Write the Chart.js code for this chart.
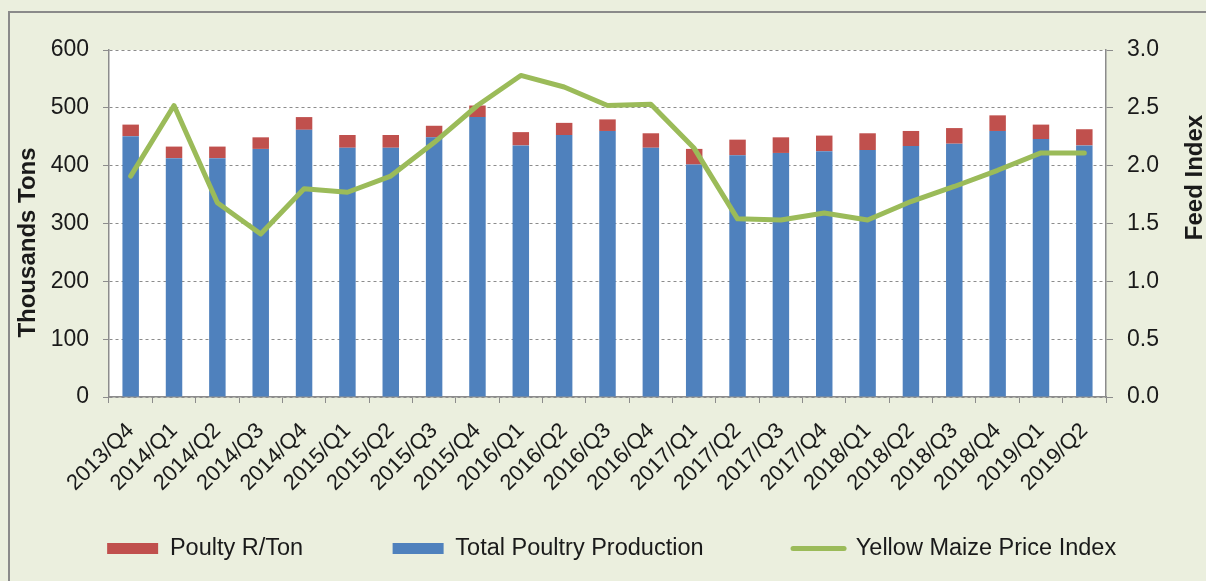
<!DOCTYPE html>
<html>
<head>
<meta charset="utf-8">
<script src="https://cdn.jsdelivr.net/npm/chart.js@4.4.1/dist/chart.umd.min.js"></script>
<style>
html,body{margin:0;padding:0;background:#ebefde;}
canvas{display:block;}
</style>
</head>
<body>
<canvas id="c" width="1206" height="581"></canvas>
<script>
// ---- data ----
const categories = ['2013/Q4','2014/Q1','2014/Q2','2014/Q3','2014/Q4','2015/Q1','2015/Q2','2015/Q3','2015/Q4',
  '2016/Q1','2016/Q2','2016/Q3','2016/Q4','2017/Q1','2017/Q2','2017/Q3','2017/Q4',
  '2018/Q1','2018/Q2','2018/Q3','2018/Q4','2019/Q1','2019/Q2'];
const totalPoultryProduction = [451,413,413,429,462,431,431,449,484,435,453,460,431,402,418,422,425,427,434,438,460,446,435];
const poultyRPerTon = [20,20,20,20,22,22,22,20,20,23,21,20,25,27,27,27,27,29,26,27,27,25,28];
const yellowMaizePriceIndex = [1.91,2.52,1.68,1.41,1.80,1.77,1.91,2.20,2.52,2.78,2.68,2.52,2.53,2.15,1.54,1.53,1.59,1.53,1.69,1.82,1.96,2.11,2.11];
const leftAxisTitle = 'Thousands Tons';
const rightAxisTitle = 'Feed Index';
const legendOrder = ['Poulty R/Ton','Total Poultry Production','Yellow Maize Price Index'];

const FONT = "'Liberation Sans', Arial, sans-serif";
const BG = '#ebefde';
const AXIS = '#8c8c8c';
const TXT = '#1a1a1a';

const bgPlugin = {
  id: 'bgPlugin',
  beforeDraw(chart) {
    const {ctx, chartArea: a} = chart;
    ctx.save();
    ctx.fillStyle = BG;
    ctx.fillRect(0, 0, chart.width, chart.height);
    ctx.strokeStyle = '#8a8a8a';
    ctx.lineWidth = 2;
    ctx.strokeRect(9, 12, chart.width + 40, chart.height + 40);
    ctx.fillStyle = '#ffffff';
    ctx.fillRect(a.left, a.top, a.right - a.left, a.bottom - a.top);
    ctx.restore();
  }
};

const titlePlugin = {
  id: 'titlePlugin',
  afterDraw(chart) {
    const {ctx, chartArea: a} = chart;
    const mid = (a.top + a.bottom) / 2;
    ctx.save();
    ctx.font = 'bold 24px ' + FONT;
    ctx.fillStyle = TXT;
    ctx.textAlign = 'center';
    ctx.textBaseline = 'middle';
    [[leftAxisTitle, 28, mid + 19], [rightAxisTitle, chart.width - 11, mid - 46]].forEach(([t, x, y]) => {
      ctx.save();
      ctx.translate(x, y);
      ctx.rotate(-Math.PI / 2);
      ctx.fillText(t, 0, 0);
      ctx.restore();
    });
    ctx.restore();
  }
};

new Chart(document.getElementById('c'), {
  data: {
    labels: categories,
    datasets: [
      {
        type: 'bar', label: 'Total Poultry Production', data: totalPoultryProduction,
        backgroundColor: '#4f81bd', yAxisID: 'y', stack: 's', order: 1,
        barPercentage: 0.38, categoryPercentage: 1
      },
      {
        type: 'bar', label: 'Poulty R/Ton', data: poultyRPerTon,
        backgroundColor: '#c0504d', yAxisID: 'y', stack: 's', order: 1,
        barPercentage: 0.38, categoryPercentage: 1
      },
      {
        type: 'line', label: 'Yellow Maize Price Index', data: yellowMaizePriceIndex,
        borderColor: '#9bbb59', backgroundColor: '#9bbb59', borderWidth: 5,
        borderCapStyle: 'round', borderJoinStyle: 'round',
        pointRadius: 0, pointHoverRadius: 0, tension: 0, yAxisID: 'y1', order: 0
      }
    ]
  },
  options: {
    responsive: false,
    animation: false,
    layout: { padding: { left: 3.3, right: -14, top: 50, bottom: 10.75 } },
    plugins: {
      tooltip: { enabled: false },
      legend: {
        position: 'bottom',
        labels: {
          usePointStyle: true,
          pointStyleWidth: 51,
          boxHeight: 11,
          padding: 89.5,
          color: TXT,
          font: { family: FONT, size: 23.5 },
          generateLabels(chart) {
            const items = Chart.defaults.plugins.legend.labels.generateLabels(chart);
            items.forEach(it => {
              const ds = chart.data.datasets[it.datasetIndex];
              if (ds.type === 'line') { it.pointStyle = 'line'; it.lineWidth = 5; it.lineCap = 'round'; }
              else { it.pointStyle = 'rect'; it.lineWidth = 0; }
            });
            return items;
          },
          sort: (a, b) => legendOrder.indexOf(a.text) - legendOrder.indexOf(b.text)
        }
      }
    },
    scales: {
      x: {
        stacked: true,
        offset: true,
        grid: { offset: true, drawOnChartArea: false, drawTicks: true, tickLength: 6, color: AXIS, tickColor: AXIS },
        border: { display: true, color: AXIS, width: 1.5 },
        ticks: { autoSkip: false, minRotation: 45, maxRotation: 45, padding: 15, color: TXT, font: { family: FONT, size: 22 } },
        afterFit(s) {
          s.height = 50.25;
          // rotated labels run down past the (short) axis box; do not clip them
          s._computeLabelArea = () => undefined;
        }
      },
      y: {
        stacked: true,
        position: 'left',
        min: 0, max: 600,
        grid: { color: AXIS, tickColor: AXIS, tickLength: 6, tickBorderDash: [] },
        border: { display: true, color: AXIS, width: 1.5, dash: [3, 3] },
        ticks: { stepSize: 100, padding: 14, color: TXT, font: { family: FONT, size: 23 } },
        afterFit(s) { s.width = 105.7; }
      },
      y1: {
        position: 'right',
        min: 0, max: 3,
        grid: { drawOnChartArea: false, color: AXIS, tickColor: AXIS, tickLength: 7 },
        border: { display: true, color: AXIS, width: 1.5 },
        ticks: { stepSize: 0.5, padding: 14, color: TXT, font: { family: FONT, size: 23 },
                 callback: v => Number(v).toFixed(1) },
        afterFit(s) { s.width = 114; }
      }
    }
  },
  plugins: [bgPlugin, titlePlugin]
});
</script>
</body>
</html>
